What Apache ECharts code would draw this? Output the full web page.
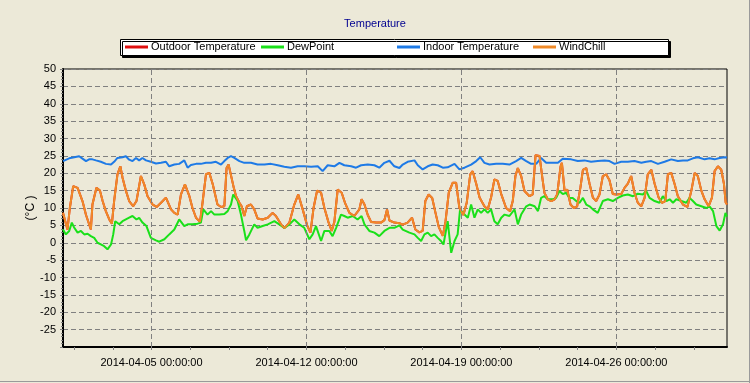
<!DOCTYPE html>
<html><head><meta charset="utf-8">
<script src="https://cdn.jsdelivr.net/npm/echarts@6/dist/echarts.min.js"></script>
<style>html,body{margin:0;padding:0;background:#ECE9D8;}#c{width:750px;height:383px;}</style>
</head><body><div id="c"></div><script>
// Time values are "days since 2014-04-01 00:00:00"
const startDate = Date.UTC(2014, 3, 1);
const xLabelDates = ['2014-04-05 00:00:00', '2014-04-12 00:00:00', '2014-04-19 00:00:00', '2014-04-26 00:00:00'];
const seriesNames = ['Outdoor Temperature', 'DewPoint', 'Indoor Temperature', 'WindChill'];

const windchillDays = [0,0.2,0.31,0.46,0.66,0.88,1.04,1.26,1.33,1.51,1.67,1.79,1.94,2.09,2.21,2.31,2.46,2.59,2.69,2.84,2.99,3.17,3.32,3.52,3.67,3.82,4.05,4.23,4.43,4.65,4.88,5.03,5.18,5.33,5.51,5.71,5.85,6.01,6.19,6.31,6.46,6.61,6.76,6.98,7.14,7.29,7.39,7.48,7.56,7.71,7.82,7.97,8.07,8.19,8.31,8.49,8.64,8.79,9.02,9.25,9.47,9.62,9.85,10.0,10.23,10.45,10.63,10.83,11.03,11.18,11.32,11.48,11.66,11.81,11.99,12.14,12.26,12.41,12.59,12.74,12.94,13.16,13.39,13.49,13.62,13.77,13.92,14.15,14.37,14.52,14.64,14.75,14.97,15.2,15.35,15.57,15.77,15.92,16.1,16.25,16.37,16.52,16.68,16.83,16.98,17.16,17.28,17.43,17.61,17.76,17.91,18.09,18.24,18.4,18.51,18.67,18.82,19.04,19.19,19.34,19.49,19.64,19.8,20.02,20.2,20.32,20.44,20.55,20.7,20.85,21.08,21.22,21.35,21.53,21.65,21.75,21.9,22.06,22.21,22.33,22.48,22.54,22.66,22.78,22.93,23.08,23.23,23.38,23.49,23.64,23.79,23.94,24.09,24.24,24.39,24.54,24.69,24.84,24.99,25.22,25.37,25.52,25.67,25.82,25.97,26.13,26.28,26.42,26.58,26.73,26.91,27.06,27.21,27.33,27.48,27.63,27.78,28.01,28.21,28.39,28.54,28.68,28.84,28.99,29.17,29.32,29.44,29.59,29.74,29.86,29.94,30];
const windchillValues = [8.6,3.8,10,16.3,15.8,12,8,3.8,11,15.8,15,12,9,6.7,5.5,12,19.7,22,18.7,15,12,10.5,12,19.2,16.8,13.4,11,10.3,11.5,13,9.6,8.6,8.1,13.9,16.8,13.4,10,7.2,6,11.8,19.7,20.1,17,11,10.3,10.5,21.5,22.5,23,16,13.4,11.5,10.5,7.7,10.5,11,9.6,7,6.7,7.2,8.6,7.7,5.3,4.2,5.8,11,13.9,9.6,5,2.9,10,15,14.4,10,6,3.4,6,15.3,14.4,11.5,8.6,7.7,9.6,12.5,11,8,6,5.8,5.8,6.5,9.6,6.4,5.8,5.6,5.2,5.8,7.2,3.8,3,3.4,12,13.9,12.9,8.6,4.5,2,6,14.4,17.3,17.3,10,8,11.5,19.7,20.6,17,13,10.5,9.6,13,18.2,17.8,14,10,9.1,12,19.2,21.5,19.2,14.9,13.4,13.9,25.2,25,19,14.4,12.5,12,12.5,14,22,23,15,15.3,11,10,10.5,16,21,21.5,17,13,12,13.9,19.2,19.7,18,14,13.9,14,15.8,17,19.2,14.4,11.5,10.5,13,19.7,21,17,13,11.5,12,19.7,20.1,17,13.4,11,10.3,15,20.1,19.2,15,12.5,10.5,13,20.6,22,21,17,11.6,11];

// Outdoor temperature coincides with wind chill in the picture (hidden beneath it)
const outdoorDays = windchillDays;
const outdoorValues = windchillValues;

const dewDays = [0,0.13,0.28,0.4,0.51,0.66,0.81,0.96,1.11,1.26,1.41,1.56,1.71,1.86,2.01,2.17,2.27,2.36,2.54,2.69,2.84,2.99,3.14,3.32,3.44,3.59,3.77,3.97,4.2,4.35,4.58,4.8,5.03,5.25,5.48,5.63,5.85,6.08,6.23,6.34,6.53,6.69,6.84,7.06,7.29,7.44,7.59,7.69,7.89,8.04,8.19,8.27,8.42,8.64,8.79,9.02,9.25,9.55,9.77,10.0,10.23,10.45,10.68,10.9,11.13,11.28,11.43,11.66,11.81,12.03,12.18,12.34,12.56,12.71,12.86,13.09,13.31,13.49,13.62,13.84,14.07,14.29,14.52,14.75,14.97,15.2,15.35,15.65,15.88,16.03,16.18,16.33,16.48,16.63,16.78,16.93,17.08,17.19,17.38,17.54,17.69,17.83,17.94,18.14,18.29,18.44,18.59,18.74,18.89,19.04,19.19,19.34,19.49,19.64,19.8,19.95,20.17,20.4,20.55,20.7,20.93,21.08,21.31,21.46,21.6,21.75,21.9,22.13,22.28,22.43,22.58,22.73,22.88,23.03,23.19,23.34,23.49,23.64,23.79,23.94,24.16,24.39,24.62,24.84,25.07,25.29,25.52,25.75,25.97,26.2,26.35,26.5,26.73,26.95,27.1,27.26,27.41,27.56,27.71,27.94,28.16,28.31,28.46,28.61,28.84,29.07,29.21,29.37,29.52,29.67,29.82,29.93,30];
const dewValues = [3.8,2.4,3.4,5.8,4.3,2.9,3.4,2.4,2.6,1.9,1.4,0,-0.5,-1,-1.9,-0.5,2.4,6.2,5.3,6.2,6.7,7.2,7.7,6.7,7.2,5.8,4.8,1.4,0.7,0.3,1,2.4,3.8,6.7,4.8,5.3,5.3,5.5,5.8,9.6,8.1,9.1,8.1,8.1,8.3,9.1,11,13.9,12,8.1,3.4,0.7,2.4,5.3,4.3,4.8,5.3,6.2,5.3,4.3,5.3,6.7,5.3,4.3,1,2.4,4.8,0.5,3.4,3.4,1.9,4.3,8.1,7.7,7.2,7.7,6.7,7.7,5.3,3.4,2.9,1.9,3.4,4.3,4.3,5,3.8,2.9,2.4,1.4,0.5,2.4,2.9,1.9,2.4,1.4,0.5,-0.5,6.2,-2.9,0.5,2.4,9.6,8.1,7.2,11,7.2,9.6,8.6,9.6,8.6,9.6,6.2,5.3,7.2,8.1,7.7,9.6,5.3,8.1,10.5,11,10.5,9.1,12.9,13.4,12.5,12.5,12.9,14.9,14,14.4,12.9,12.9,12,11.5,12.9,11,10.5,9.6,8.6,12,12.5,12,12.9,13.6,13.9,13.4,14.1,13.9,14.9,12.9,12,11.5,13.4,12,12.5,11.5,12.5,12,11.5,12.9,12,11,10.5,10,10.5,9.1,4.8,3.5,5.3,8.6,7.5];

const indoorDays = [0,0.28,0.51,0.73,0.88,1.04,1.18,1.33,1.49,1.71,1.94,2.17,2.31,2.46,2.69,2.84,2.99,3.14,3.3,3.44,3.59,3.75,3.97,4.2,4.43,4.65,4.8,5.03,5.25,5.48,5.63,5.78,6.01,6.23,6.46,6.69,6.91,7.14,7.29,7.44,7.59,7.74,7.97,8.19,8.49,8.79,9.1,9.4,9.7,10.0,10.3,10.6,10.9,11.21,11.51,11.73,11.96,12.26,12.49,12.71,13.02,13.24,13.47,13.77,14.07,14.29,14.52,14.75,14.97,15.2,15.35,15.57,15.88,16.03,16.25,16.48,16.7,16.93,17.16,17.38,17.69,17.91,18.14,18.44,18.67,18.85,19.04,19.27,19.57,19.87,20.17,20.47,20.7,20.93,21.15,21.38,21.6,21.83,22.13,22.36,22.58,22.96,23.26,23.56,23.86,24.16,24.47,24.69,24.92,25.22,25.52,25.82,26.13,26.35,26.58,26.88,27.18,27.48,27.78,28.01,28.23,28.46,28.68,28.99,29.21,29.44,29.67,29.9,30];
const indoorValues = [23.5,24.3,24.6,24.9,24.2,23.5,24,24,23.7,23.3,22.7,22.5,23.3,24.4,24.6,24.9,23.9,23.5,24.4,23.7,24.4,23.7,23.3,22.8,23,23.3,22,22.5,22.7,23.7,21.6,22.4,22.7,22.7,23,23,23.3,22.5,23.5,24.4,24.9,24.4,23.5,23,23,22.5,22.5,22.7,22.3,21.9,21.6,22,22,21.9,22,20.6,22.3,22,23,22.3,22,21.6,22.3,22.5,22.3,21.6,23,23.6,22,21.5,22.5,23.3,23.7,22.3,21.1,22,22.5,22.3,21.6,21.7,22.7,21.1,21.6,22.5,23.5,24.6,23,22.5,22.7,22.7,22.5,23.5,24.4,23.5,22.7,22.7,24.4,23,23,23,24.2,24,23.5,23.7,23.3,23.5,23.7,23.5,22.7,23.3,23.3,23.5,23,23.3,23.5,22.7,23.3,24,23.5,23.7,23.7,24.3,24.6,24,24.3,24,24.4,24.6,24.5];

const DAY = 86400000;
function parseLabelDate(s) {
  const p = s.split(/[- :]/).map(Number);
  return Date.UTC(p[0], p[1] - 1, p[2], p[3], p[4], p[5]);
}
const xLabelDays = xLabelDates.map(s => (parseLabelDate(s) - startDate) / DAY);
const xMinorTickDays = [];
for (let d = xLabelDays[0] - 1.75 * 2; d <= 30; d += 1.75) if (d >= 0) xMinorTickDays.push(+d.toFixed(2));

function pairs(days, vals) { return days.map((d, i) => [d, vals[i]]); }

const FONT = 'Liberation Sans, Arial, sans-serif';
const colors = ['#E01010', '#1AE01A', '#1E7AE6', '#F08A28'];
const chart = echarts.init(document.getElementById('c'));
const lineSeries = (name, days, vals, color) => ({
  name, type: 'line', data: pairs(days, vals), showSymbol: false, symbol: 'none',
  lineStyle: { width: 2, color }, itemStyle: { color }, animation: false
});
// one legend block per column so the four entries sit at equal spacing
const legends = seriesNames.map((name, i) => ({
  data: [name], left: 125 + 136 * i, top: 41.5, icon: 'rect', itemWidth: 23, itemHeight: 3,
  padding: 0, selectedMode: false, z: 10,
  textStyle: { fontSize: 11, color: '#000', fontFamily: FONT, padding: [0, 0, 0, -2] }
}));
chart.setOption({
  backgroundColor: '#ECE9D8',
  animation: false,
  title: { text: 'Temperature', left: 'center', top: 13, textStyle: { color: '#000090', fontSize: 11, fontWeight: 'normal', fontFamily: FONT } },
  legend: legends,
  grid: { left: 63, right: 23, top: 69, bottom: 36, show: true, borderColor: '#000', borderWidth: 1, backgroundColor: 'transparent' },
  xAxis: {
    type: 'value', min: 0, max: 30,
    axisLine: { onZero: false, lineStyle: { color: '#000', width: 2 } },
    axisTick: { customValues: xMinorTickDays, length: 3, lineStyle: { color: '#808080' } },
    axisLabel: {
      customValues: xLabelDays, color: '#000', fontSize: 11, fontFamily: FONT, margin: 10,
      formatter: v => { const i = xLabelDays.findIndex(d => Math.abs(d - v) < 1e-6); return i >= 0 ? xLabelDates[i] : ''; }
    },
    splitLine: { show: false }
  },
  yAxis: {
    type: 'value', min: -30, max: 50, interval: 5,
    name: '(°C )', nameLocation: 'middle', nameRotate: 90, nameGap: 26, nameMoveOverlap: false,
    nameTextStyle: { color: '#000', fontSize: 12, fontFamily: FONT },
    axisLine: { lineStyle: { color: '#000', width: 2 } },
    axisTick: { length: 3, lineStyle: { color: '#808080' } },
    minorTick: { show: true, splitNumber: 5, length: 2, lineStyle: { color: '#808080' } },
    axisLabel: { color: '#000', fontSize: 11, fontFamily: FONT, margin: 7, formatter: v => v === -30 ? '' : String(v) },
    splitLine: { show: true, lineStyle: { color: '#808080', type: [5, 3], width: 1 } }
  },
  series: [
    { type: 'line', data: [], silent: true,
      markLine: { silent: true, symbol: ['none', 'none'], label: { show: false }, animation: false,
        lineStyle: { color: '#808080', type: [5, 3], width: 1 },
        data: xLabelDays.map(d => ({ xAxis: d })) } },
    lineSeries(seriesNames[0], outdoorDays, outdoorValues, colors[0]),
    lineSeries(seriesNames[1], dewDays, dewValues, colors[1]),
    lineSeries(seriesNames[2], indoorDays, indoorValues, colors[2]),
    lineSeries(seriesNames[3], windchillDays, windchillValues, colors[3])
  ],
  graphic: [
    { type: 'rect', z: 1, shape: { x: 120.5, y: 39.5, width: 548, height: 16 },
      style: { fill: '#fff', stroke: '#000', lineWidth: 1, shadowColor: '#000', shadowOffsetX: 2, shadowOffsetY: 2, shadowBlur: 0.01 } },
    { type: 'line', shape: { x1: 749.5, y1: 0, x2: 749.5, y2: 383 }, style: { stroke: '#9A9A9A', lineWidth: 1 } },
    { type: 'line', shape: { x1: 0, y1: 381.5, x2: 750, y2: 381.5 }, style: { stroke: '#9A9A9A', lineWidth: 1 } }
  ]
});
</script></body></html>
